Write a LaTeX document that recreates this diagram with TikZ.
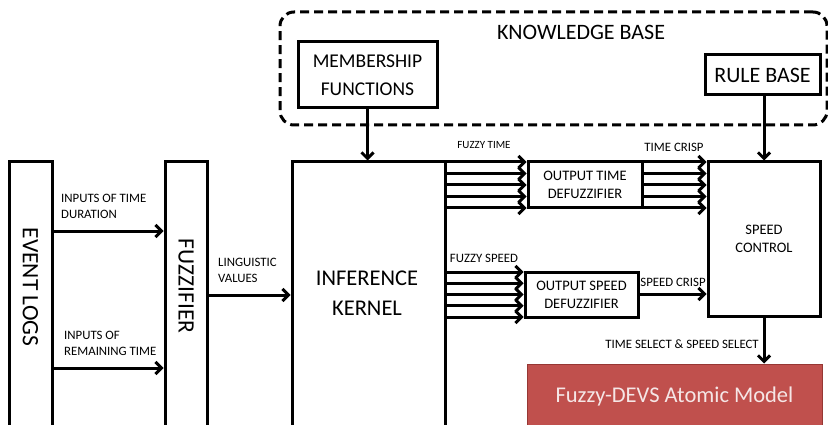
\documentclass[tikz,border=0pt]{standalone}
\usepackage{fontspec}
\setmainfont{Carlito}
\usetikzlibrary{arrows.meta}
\definecolor{modelred}{RGB}{192,80,77}
\definecolor{modeledge}{RGB}{150,55,52}
\definecolor{modeltext}{RGB}{245,230,230}
\newcommand\fzsmall{\fontsize{12.8}{16}\selectfont}
\newcommand\fzmid{\fontsize{14.5}{18}\selectfont}
\newcommand\fzbig{\fontsize{22}{28}\selectfont}
\newcommand\fzhuge{\fontsize{22.5}{30}\selectfont}
\begin{document}
\begin{tikzpicture}[x=1pt,y=-1pt,
  box/.style={draw,line width=3pt,inner sep=0pt,align=center},
  arr/.style={line width=3pt,-{Straight Barb[length=6pt,width=12pt]}},
  lbl/.style={inner sep=0pt,align=left,font=\fzsmall}]
\useasboundingbox (0,0) rectangle (828,425);
\clip (0,0) rectangle (828,425);

\node[box,dash pattern=on 9pt off 5pt,rounded corners=14pt,minimum width=547,minimum height=113] (kb) at (553.5,68.5) {};
\node[inner sep=0pt,font=\fzbig] (kbtxt) at (581,32) {KNOWLEDGE BASE};
\node[box,font=\fontsize{19.5}{28}\selectfont,minimum width=139,minimum height=66] (memb) at (367.5,75) {MEMBERSHIP\\FUNCTIONS};
\node[box,font=\fzbig,minimum width=115,minimum height=40] (rule) at (762.5,75) {RULE BASE};

\node[box,minimum width=43,minimum height=290] (evlog) at (30.5,307) {};
\node[rotate=-90,inner sep=0pt,font=\fontsize{23.5}{30}\selectfont] (evlogtxt) at (30.5,287) {EVENT LOGS};
\node[box,minimum width=42,minimum height=290] (fuzz) at (186,307) {};
\node[rotate=-90,inner sep=0pt,font=\fontsize{23.5}{30}\selectfont] (fuzztxt) at (186,286) {FUZZIFIER};
\node[box,minimum width=153,minimum height=290] (kernel) at (368.5,307) {};
\node[inner sep=0pt,font=\fzhuge,align=center] (kerneltxt) at (367,293) {INFERENCE\\KERNEL};

\node[box,font=\fzmid,minimum width=114,minimum height=46] (timedef) at (585,185) {OUTPUT TIME\\DEFUZZIFIER};
\node[box,font=\fzmid,minimum width=113,minimum height=45] (speeddef) at (581.5,294.5) {OUTPUT SPEED\\DEFUZZIFIER};
\node[box,font=\fzmid,minimum width=112,minimum height=154] (ctrl) at (764,239) {SPEED\\CONTROL};
\node[draw=modeledge,fill=modelred,line width=1pt,text=modeltext,font=\fzhuge,minimum width=295,minimum height=66] (model) at (674.5,397) {Fuzzy-DEVS Atomic Model};

\draw[arr] (memb) -- (memb |- kernel.north);
\draw[arr] (rule.south -| ctrl) -- (ctrl.north);
\draw[arr] (evlog.east |- 0,231) -- (fuzz.west |- 0,231);
\draw[arr] (evlog.east |- 0,368) -- (fuzz.west |- 0,368);
\draw[arr] (fuzz.east |- 0,295) -- (kernel.west |- 0,295);
\foreach \i in {0,...,4}{
  \draw[arr] (kernel.east |- 0,162+11.5*\i) -- (timedef.west |- 0,162+11.5*\i);
  \draw[arr] (timedef.east |- 0,162+11.5*\i) -- (ctrl.west |- 0,162+11.5*\i);
  \draw[arr] (kernel.east |- 0,272+11.25*\i) -- (speeddef.west |- 0,272+11.25*\i);
}
\draw[arr] (speeddef.east |- 0,294) -- (ctrl.west |- 0,294);
\draw[arr] (ctrl.south) -- (ctrl.south |- model.north);

\node[lbl,anchor=west] (durlbl) at (61,206) {INPUTS OF TIME\\DURATION};
\node[lbl,anchor=west] (remlbl) at (64,343) {INPUTS OF\\REMAINING TIME};
\node[lbl,anchor=west] (linglbl) at (218,270) {LINGUISTIC\\VALUES};
\node[lbl,font=\fontsize{11}{14}\selectfont] (ftimelbl) at (484,145) {FUZZY TIME};
\node[lbl] (tcrisplbl) at (674,147) {TIME CRISP};
\node[lbl] (fspeedlbl) at (484,258) {FUZZY SPEED};
\node[lbl] (scrisplbl) at (673,282) {SPEED CRISP};
\node[lbl,anchor=east] (sellbl) at (759,344) {TIME SELECT \& SPEED SELECT};
\end{tikzpicture}
\end{document}
